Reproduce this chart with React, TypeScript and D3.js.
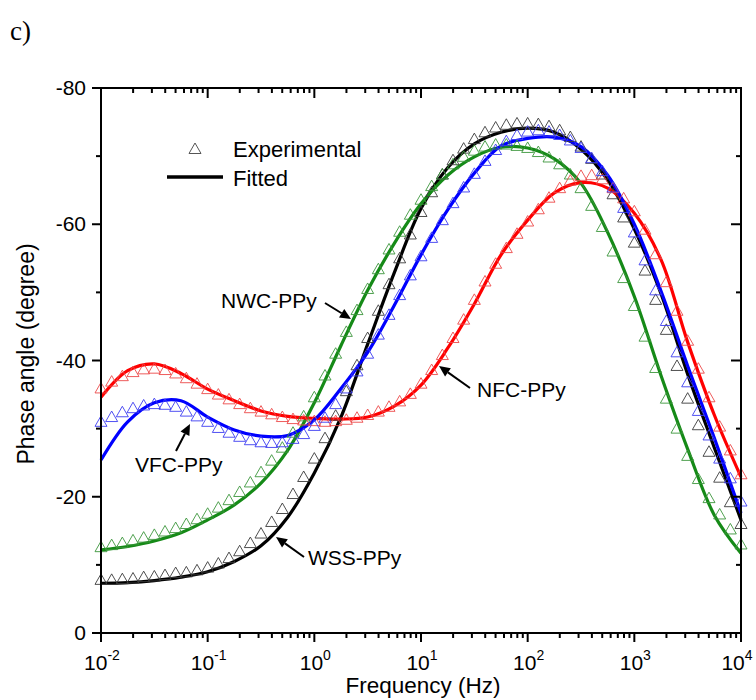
import React from "react";
import * as d3 from "d3";

// log10(frequency / Hz) of the fitted-curve samples
const fitLogF = [-2, -1.75, -1.5, -1.25, -1, -0.75, -0.5, -0.25, 0, 0.25, 0.5, 0.75, 1, 1.25, 1.5, 1.75, 2, 2.25, 2.5, 2.75, 3, 3.25, 3.5, 3.75, 4];
const fitNFC = [-34.6, -38.5, -39.5, -38.1, -35.8, -34.1, -32.6, -31.8, -31.5, -31.4, -31.7, -33.3, -36.4, -41.8, -48.3, -55.5, -60.6, -64.6, -66.1, -65.3, -61.6, -54.8, -42.7, -32.0, -22.9];
const fitVFC = [-25.4, -31.0, -33.8, -34.1, -31.7, -29.8, -28.9, -29.0, -31.3, -35.9, -41.2, -48.1, -55.5, -62.1, -67.5, -71.5, -72.6, -72.8, -71.4, -67.2, -60.0, -50.2, -39.2, -28.6, -17.6];
const fitNWC = [-12.2, -12.7, -13.5, -14.7, -16.6, -18.8, -22.0, -26.8, -33.8, -42.2, -50.3, -57.2, -63.0, -67.2, -69.9, -71.3, -71.2, -69.6, -66.0, -58.8, -49.4, -37.8, -27.0, -17.3, -11.7];
const fitWSS = [-7.3, -7.4, -7.7, -8.2, -9.0, -10.5, -12.8, -17.0, -23.5, -31.7, -42.4, -52.9, -62.3, -68.3, -71.8, -73.5, -74.1, -73.5, -71.0, -66.5, -59.3, -49.8, -38.0, -27.2, -16.6];

// log10(frequency / Hz) of the experimental points
const expLogF = [-2.0, -1.9, -1.8, -1.7, -1.6, -1.5, -1.4, -1.3, -1.2, -1.1, -1.0, -0.9, -0.8, -0.7, -0.6, -0.5, -0.4, -0.3, -0.2, -0.1, 0.0, 0.1, 0.2, 0.3, 0.4, 0.5, 0.6, 0.7, 0.8, 0.9, 1.0, 1.1, 1.2, 1.3, 1.4, 1.5, 1.6, 1.7, 1.8, 1.9, 2.0, 2.1, 2.2, 2.3, 2.4, 2.5, 2.6, 2.7, 2.8, 2.9, 3.0, 3.1, 3.2, 3.3, 3.4, 3.5, 3.6, 3.7, 3.8, 3.9, 4.0];
const expNFC = [-35.9, -36.9, -37.7, -38.3, -38.7, -38.8, -38.6, -38.1, -37.4, -36.6, -35.8, -35.0, -34.3, -33.6, -33.0, -32.5, -32.1, -31.7, -31.4, -31.2, -31.1, -31.0, -31.1, -31.3, -31.6, -32.0, -32.5, -33.2, -34.0, -35.1, -36.6, -38.6, -40.8, -43.3, -46.0, -48.9, -51.6, -54.2, -56.5, -58.6, -60.4, -62.2, -63.9, -65.3, -66.4, -67.1, -67.2, -66.6, -65.3, -63.8, -61.9, -59.2, -55.6, -51.5, -47.3, -42.9, -38.8, -34.6, -30.3, -26.8, -23.3];
const expVFC = [-31.0, -31.7, -32.4, -33.0, -33.4, -33.6, -33.5, -33.2, -32.5, -31.8, -31.0, -30.1, -29.4, -28.8, -28.3, -28.0, -27.9, -28.0, -28.5, -29.2, -30.4, -31.6, -33.6, -35.9, -38.4, -41.0, -43.8, -46.7, -49.6, -52.5, -55.3, -58.0, -60.6, -63.1, -65.4, -67.4, -69.3, -70.9, -72.2, -73.1, -73.6, -73.8, -73.6, -73.1, -72.3, -71.2, -69.7, -67.8, -65.4, -62.4, -58.8, -54.7, -50.3, -45.8, -41.2, -36.8, -32.6, -29.0, -25.6, -22.7, -19.3];
const expNWC = [-12.6, -12.9, -13.2, -13.6, -14.0, -14.4, -14.9, -15.4, -16.0, -16.7, -17.5, -18.4, -19.5, -20.7, -22.1, -23.6, -25.3, -27.2, -29.4, -31.8, -34.6, -37.8, -41.0, -44.2, -47.4, -50.5, -53.4, -56.3, -58.9, -61.4, -63.6, -65.6, -67.3, -68.8, -69.9, -70.8, -71.4, -71.7, -71.7, -71.5, -71.2, -70.6, -69.8, -68.8, -67.3, -65.3, -62.7, -59.6, -56.0, -52.1, -48.0, -43.5, -38.9, -34.4, -30.0, -26.0, -22.6, -19.8, -17.4, -15.2, -13.0];
const expWSS = [-7.8, -7.8, -7.9, -8.0, -8.2, -8.3, -8.5, -8.8, -8.9, -9.2, -9.6, -10.2, -11.0, -12.0, -13.2, -14.6, -16.3, -18.2, -20.4, -22.9, -25.6, -28.6, -31.9, -35.5, -39.3, -43.3, -47.3, -51.2, -55.0, -58.5, -61.8, -64.7, -67.3, -69.4, -71.1, -72.5, -73.5, -74.2, -74.6, -74.8, -74.8, -74.7, -74.4, -73.8, -72.8, -71.4, -69.6, -67.3, -64.4, -61.0, -57.3, -53.2, -48.9, -44.5, -39.2, -34.4, -30.5, -26.6, -22.8, -19.2, -16.0];

const yTicks = [-80, -60, -40, -20, 0];
const yMinorTicks = [-70, -50, -30, -10];
const xDecades = [-2, -1, 0, 1, 2, 3, 4];

const series = [
  { name: "WSS-PPy", fit: fitWSS, exp: expWSS, line: "#000000", marker: "#3a3a3a" },
  { name: "NWC-PPy", fit: fitNWC, exp: expNWC, line: "#158a17", marker: "#3c963c" },
  { name: "NFC-PPy", fit: fitNFC, exp: expNFC, line: "#ff0000", marker: "#ec4a4a" },
  { name: "VFC-PPy", fit: fitVFC, exp: expVFC, line: "#0000ff", marker: "#3c3cf0" },
];

const FONT = "Liberation Sans, Arial, Helvetica, sans-serif";

function Arrow({ x1, y1, x2, y2 }: { x1: number; y1: number; x2: number; y2: number }) {
  const ang = Math.atan2(y2 - y1, x2 - x1);
  const L = 11, Wd = 5;
  const bx = x2 - L * Math.cos(ang), by = y2 - L * Math.sin(ang);
  const px = -Math.sin(ang) * Wd, py = Math.cos(ang) * Wd;
  return (
    <g>
      <line x1={x1} y1={y1} x2={bx} y2={by} stroke="#000" strokeWidth={2} />
      <path d={`M${x2},${y2}L${bx + px},${by + py}L${bx - px},${by - py}Z`} fill="#000" />
    </g>
  );
}

function tri(cx: number, cy: number) {
  return `M${cx},${cy - 6}L${cx + 6},${cy + 4.5}L${cx - 6},${cy + 4.5}Z`;
}

export default function App() {
  const x = d3.scaleLog().domain([1e-2, 1e4]).range([101, 741]);
  const y = d3.scaleLinear().domain([0, -80]).range([633, 88]);
  const line = d3
    .line<[number, number]>()
    .x((d) => x(Math.pow(10, d[0])))
    .y((d) => y(d[1]))
    .curve(d3.curveCatmullRom.alpha(0.5));

  const minorX: number[] = [];
  for (let dcd = -2; dcd < 4; dcd++) for (let k = 2; k <= 9; k++) minorX.push(k * Math.pow(10, dcd));

  const left = 101, right = 741, top = 88, bottom = 633;

  return (
    <svg width={756} height={700} style={{ display: "block", position: "absolute", left: 0, top: 0 }} fontFamily={FONT}>
      <rect width={756} height={700} fill="#fff" />
      <text x={10} y={40} fontFamily="Liberation Serif, Times New Roman, serif" fontSize={27}>c)</text>

      {/* fitted lines */}
      {series.map((s) => (
        <path key={s.name + "f"} d={line(fitLogF.map((l, i) => [l, s.fit[i]]) as [number, number][]) || ""} fill="none" stroke={s.line} strokeWidth={3.2} />
      ))}
      {/* experimental markers */}
      {series.map((s) => (
        <g key={s.name + "e"}>
          {expLogF.map((l, i) => (
            <path key={i} d={tri(x(Math.pow(10, l)), y(s.exp[i]))} fill="none" stroke={s.marker} strokeWidth={0.9} />
          ))}
        </g>
      ))}

      {/* frame */}
      <rect x={left} y={top} width={right - left} height={bottom - top} fill="none" stroke="#000" strokeWidth={2} />

      {/* y ticks */}
      {yTicks.map((t) => (
        <g key={"y" + t}>
          <line x1={left - 9} x2={left} y1={y(t)} y2={y(t)} stroke="#000" strokeWidth={2} />
          <line x1={right - 10} x2={right} y1={y(t)} y2={y(t)} stroke="#000" strokeWidth={2} />
          <text x={86} y={y(t) + 7} textAnchor="end" fontSize={21}>{t}</text>
        </g>
      ))}
      {yMinorTicks.map((t) => (
        <g key={"ym" + t}>
          <line x1={left - 5} x2={left} y1={y(t)} y2={y(t)} stroke="#000" strokeWidth={2} />
          <line x1={right - 5} x2={right} y1={y(t)} y2={y(t)} stroke="#000" strokeWidth={2} />
        </g>
      ))}

      {/* x ticks */}
      {xDecades.map((dcd, i) => {
        const px = x(Math.pow(10, dcd));
        const shift = i === xDecades.length - 1 ? -4 : 1;
        return (
          <g key={"x" + dcd}>
            <line x1={px} x2={px} y1={bottom} y2={bottom + 9} stroke="#000" strokeWidth={2} />
            <line x1={px} x2={px} y1={top} y2={top + 10} stroke="#000" strokeWidth={2} />
            <text x={px + shift} y={670} textAnchor="middle" fontSize={21}>
              10<tspan dy={-10} fontSize={14}>{dcd}</tspan>
            </text>
          </g>
        );
      })}
      {minorX.map((v, i) => {
        const px = x(v);
        return (
          <g key={"xm" + i}>
            <line x1={px} x2={px} y1={bottom} y2={bottom + 5} stroke="#000" strokeWidth={2} />
            <line x1={px} x2={px} y1={top} y2={top + 5} stroke="#000" strokeWidth={2} />
          </g>
        );
      })}

      {/* axis titles */}
      <text x={423} y={693} textAnchor="middle" fontSize={22.5}>Frequency (Hz)</text>
      <text transform="translate(34,354) rotate(-90)" textAnchor="middle" fontSize={23}>Phase angle (degree)</text>

      {/* legend */}
      <path d={tri(195, 149)} fill="none" stroke="#555" strokeWidth={1} />
      <text x={233} y={157} fontSize={22}>Experimental</text>
      <line x1={167} x2={223} y1={177} y2={177} stroke="#000" strokeWidth={3.5} />
      <text x={233} y={186} fontSize={22}>Fitted</text>

      {/* annotations */}
      <text x={221} y={308} fontSize={21}>NWC-PPy</text>
      <Arrow x1={325} y1={303} x2={351} y2={319} />
      <text x={135} y={472} fontSize={21}>VFC-PPy</text>
      <Arrow x1={176} y1={451} x2={190} y2={424} />
      <text x={308} y={565} fontSize={21}>WSS-PPy</text>
      <Arrow x1={304} y1={557} x2={276} y2={537} />
      <text x={477} y={397} fontSize={21}>NFC-PPy</text>
      <Arrow x1={470} y1={388} x2={439} y2={366} />
    </svg>
  );
}
